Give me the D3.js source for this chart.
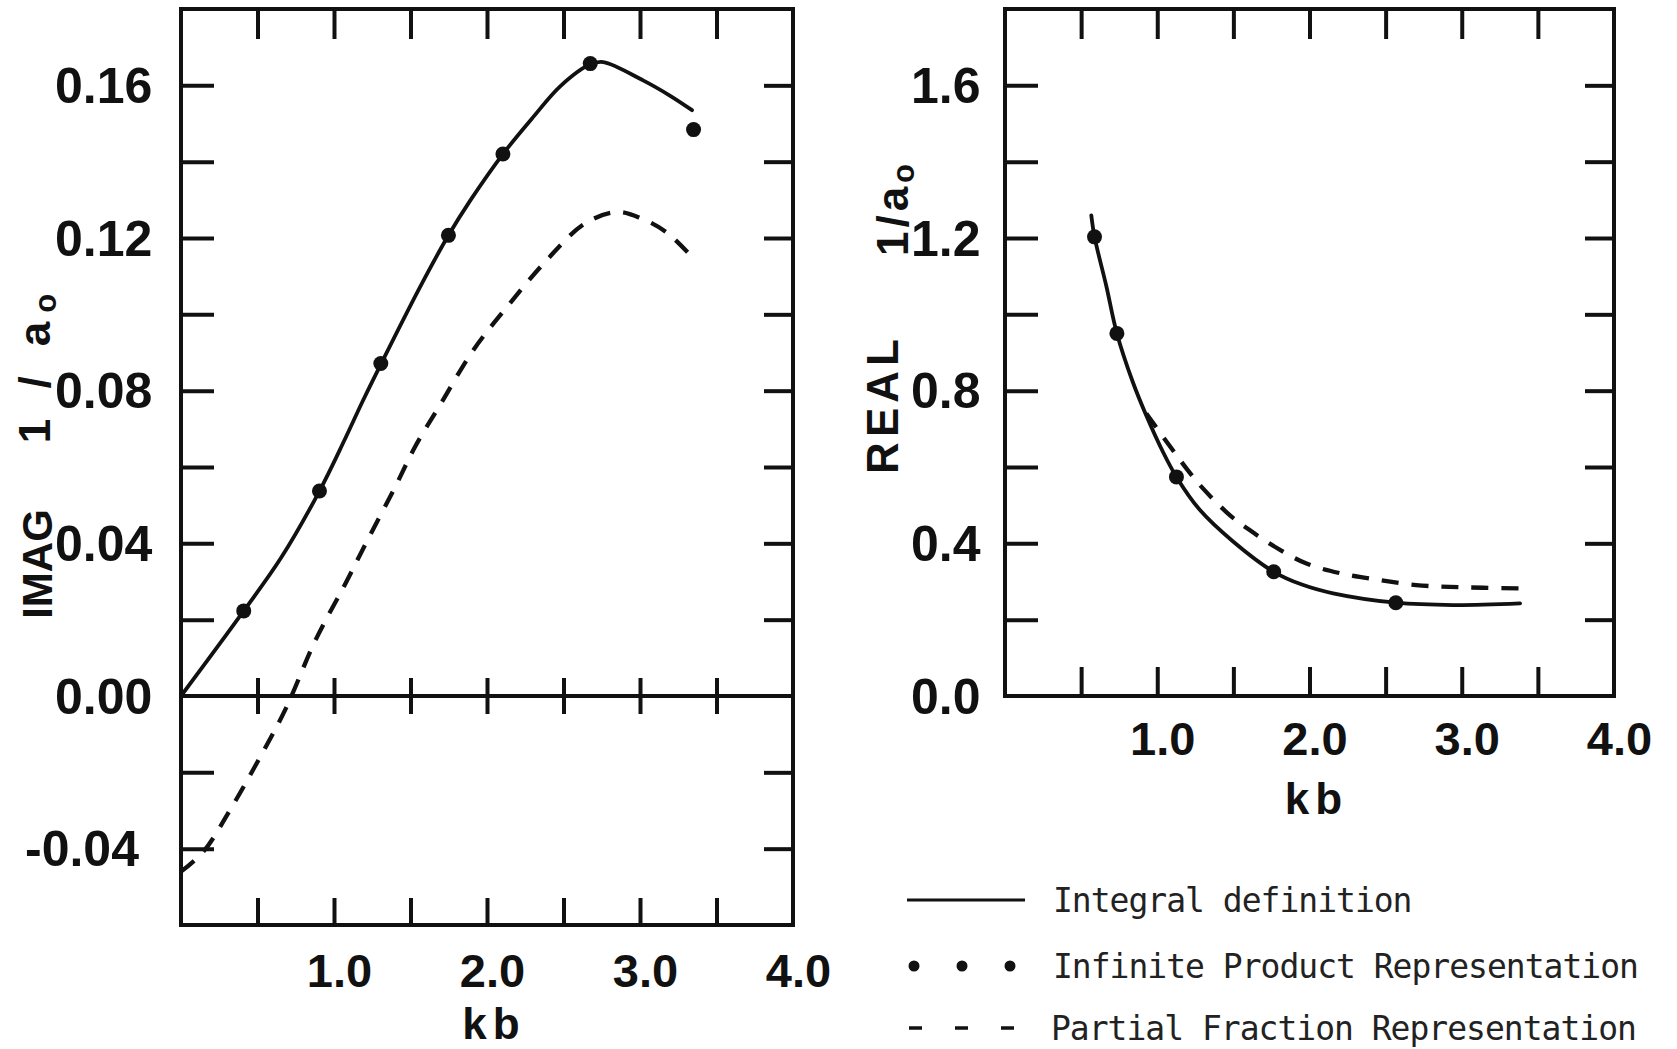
<!DOCTYPE html>
<html><head><meta charset="utf-8">
<script src="https://cdn.jsdelivr.net/npm/d3@7"></script>
<style>body{margin:0;background:#fff}svg{display:block}</style>
</head><body>
<svg id="chart" width="1677" height="1049"></svg>
<script>
// ---------- data ----------
const xMinorTicks = [0.5, 1.0, 1.5, 2.0, 2.5, 3.0, 3.5];
const xTickLabels = [1.0, 2.0, 3.0, 4.0];
const imagTicks = [-0.04, -0.02, 0.02, 0.04, 0.06, 0.08, 0.10, 0.12, 0.14, 0.16];
const imagTickLabels = [-0.04, 0.00, 0.04, 0.08, 0.12, 0.16];
const realTicks = [0.2, 0.4, 0.6, 0.8, 1.0, 1.2, 1.4, 1.6];
const realTickLabels = [0.0, 0.4, 0.8, 1.2, 1.6];

// IMAG 1/a0 : integral definition (solid)
const imagIntegral = [[0,0],[0.41,0.0223],[0.654,0.0362],[0.905,0.0537],[1.068,0.067],[1.188,0.0773],[1.306,0.0869],[1.563,0.1072],[1.748,0.1207],[1.89,0.1298],[2.104,0.142],[2.3,0.1516],[2.48,0.1598],[2.675,0.1655],[2.76,0.1661],[3.02,0.1613],[3.2,0.1572],[3.34,0.1535]];
// IMAG : infinite product representation (dots)
const imagProduct = [[0.41,0.0223],[0.905,0.0537],[1.306,0.0871],[1.748,0.1207],[2.104,0.142],[2.675,0.1657],[3.35,0.1484]];
// IMAG : partial fraction representation (dashed)
const imagPartial = [[0,-0.046],[0.146,-0.0408],[0.32,-0.0299],[0.495,-0.0176],[0.68,-0.0037],[0.88,0.0147],[1.07,0.0291],[1.22,0.0409],[1.395,0.0544],[1.53,0.0653],[1.70,0.0767],[1.91,0.0906],[2.14,0.1024],[2.39,0.1142],[2.64,0.1238],[2.85,0.1268],[3.01,0.1251],[3.17,0.1216],[3.36,0.1142]];

// REAL 1/a0
const realIntegral = [[0.567,1.259],[0.588,1.203],[0.665,1.075],[0.735,0.950],[0.84,0.822],[0.928,0.735],[1.037,0.640],[1.126,0.574],[1.279,0.488],[1.498,0.405],[1.765,0.3255],[1.95,0.292],[2.155,0.269],[2.567,0.2444],[2.944,0.2383],[3.383,0.2427]];
const realProduct = [[0.588,1.203],[0.735,0.950],[1.126,0.574],[1.765,0.3255],[2.567,0.2444]];
const realPartial = [[0.928,0.740],[1.093,0.649],[1.20,0.592],[1.30,0.544],[1.476,0.474],[1.607,0.4347],[1.772,0.391],[1.98,0.347],[2.21,0.321],[2.462,0.3037],[2.70,0.2906],[2.92,0.286],[3.14,0.2836],[3.416,0.282]];

const legendLabels = ["Integral definition", "Infinite Product Representation", "Partial Fraction Representation"];

// ---------- drawing ----------
const svg = d3.select("#chart");
const FONT = "'Liberation Sans', Arial, sans-serif";
const INK = "#111";

function panel(opt) {
  const g = svg.append("g");
  const x = d3.scaleLinear().domain([0, 4]).range([opt.x0, opt.x1]);
  const y = d3.scaleLinear().domain(opt.yDomain).range([opt.y1, opt.y0]);

  const styleTicks = sel => {
    sel.select(".domain").remove();
    sel.selectAll(".tick line").attr("stroke", INK).attr("stroke-width", 4);
    sel.selectAll(".tick text").remove();
  };
  g.append("g").attr("transform", `translate(0,${opt.y0})`)
    .call(d3.axisBottom(x).tickValues(xMinorTicks).tickSize(30).tickFormat("")).call(styleTicks);
  g.append("g").attr("transform", `translate(0,${opt.y1})`)
    .call(d3.axisTop(x).tickValues(xMinorTicks).tickSize(opt.bottomTick).tickFormat("")).call(styleTicks);
  g.append("g").attr("transform", `translate(${opt.x0},0)`)
    .call(d3.axisRight(y).tickValues(opt.yTicks).tickSize(33).tickFormat("")).call(styleTicks);
  g.append("g").attr("transform", `translate(${opt.x1},0)`)
    .call(d3.axisLeft(y).tickValues(opt.yTicks).tickSize(29).tickFormat("")).call(styleTicks);

  if (opt.zeroLine) {
    const z = y(0);
    g.append("line").attr("x1", opt.x0).attr("x2", opt.x1).attr("y1", z).attr("y2", z)
      .attr("stroke", INK).attr("stroke-width", 4);
    g.append("g").attr("transform", `translate(0,${z})`)
      .call(d3.axisBottom(x).tickValues(xMinorTicks).tickSize(18).tickFormat("")).call(styleTicks);
    g.append("g").attr("transform", `translate(0,${z})`)
      .call(d3.axisTop(x).tickValues(xMinorTicks).tickSize(18).tickFormat("")).call(styleTicks);
  }

  g.append("rect").attr("x", opt.x0).attr("y", opt.y0)
    .attr("width", opt.x1 - opt.x0).attr("height", opt.y1 - opt.y0)
    .attr("fill", "none").attr("stroke", INK).attr("stroke-width", 4);

  // y tick labels (left-aligned like the hand lettering)
  const fmt = d3.format(opt.yFmt);
  const ylab = g.append("g")
    .call(d3.axisLeft(y).tickValues(opt.yLabels).tickSize(0).tickPadding(0)
      .tickFormat(d => fmt(d).replace("\u2212", "-")));
  ylab.select(".domain").remove();
  ylab.selectAll(".tick text").attr("dy", null).attr("y", 17)
    .attr("text-anchor", "start")
    .attr("x", d => d < 0 ? opt.yLabelX - 30 : opt.yLabelX)
    .attr("font-family", FONT).attr("font-weight", "bold").attr("font-size", 50).attr("fill", INK);

  const xlab = g.append("g").attr("transform", `translate(5,${opt.xLabelY})`)
    .call(d3.axisBottom(x).tickValues(xTickLabels).tickSize(0).tickPadding(0).tickFormat(d3.format(".1f")));
  xlab.select(".domain").remove();
  xlab.selectAll(".tick text").attr("dy", null).attr("y", 0)
    .attr("font-family", FONT).attr("font-weight", "bold").attr("font-size", 47).attr("fill", INK);

  g.append("text").attr("x", x(2.0) + 7).attr("y", opt.kbY).attr("text-anchor", "middle")
    .attr("font-family", FONT).attr("font-weight", "bold").attr("font-size", 44)
    .attr("letter-spacing", 6).attr("fill", INK).text("kb");

  g.append("text").attr("transform", `translate(${opt.t1x},${opt.t1y}) rotate(-90)`)
    .attr("text-anchor", "middle").attr("font-family", FONT).attr("font-weight", "bold")
    .attr("font-size", opt.t1fs).attr("letter-spacing", opt.t1ls).attr("fill", INK).text(opt.title);
  const t2 = g.append("text").attr("transform", `translate(${opt.t2x},${opt.t2y}) rotate(-90)`)
    .attr("text-anchor", "middle").attr("font-family", FONT).attr("font-weight", "bold")
    .attr("font-size", 44).attr("letter-spacing", opt.t2ls).attr("fill", INK);
  t2.append("tspan").text(opt.t2text);
  t2.append("tspan").attr("font-size", 31).attr("dy", 6).text("o");

  const line = d3.line().x(d => x(d[0])).y(d => y(d[1])).curve(d3.curveCatmullRom.alpha(0.5));
  g.append("path").datum(opt.partial).attr("d", line).attr("fill", "none")
    .attr("stroke", INK).attr("stroke-width", 4.3).attr("stroke-dasharray", "17,13");
  g.append("path").datum(opt.integral).attr("d", line).attr("fill", "none")
    .attr("stroke", INK).attr("stroke-width", 3.8).attr("stroke-linecap", "round");
  g.selectAll("circle.p").data(opt.product).join("circle").attr("class", "p")
    .attr("cx", d => x(d[0])).attr("cy", d => y(d[1])).attr("r", 7.5).attr("fill", INK);
}

panel({
  x0: 181, x1: 793, y0: 9, y1: 925, yDomain: [-0.06, 0.18], yTicks: imagTicks,
  yLabels: imagTickLabels, yFmt: ".2f", yLabelX: 55, xLabelY: 987, kbY: 1039,
  bottomTick: 27, zeroLine: true,
  title: "IMAG", t1x: 52, t1y: 564, t1fs: 42, t1ls: 0,
  t2text: "1 / a", t2x: 50, t2y: 364, t2ls: 9,
  integral: imagIntegral, product: imagProduct, partial: imagPartial
});

panel({
  x0: 1005, x1: 1614, y0: 9, y1: 696, yDomain: [0, 1.8], yTicks: realTicks,
  yLabels: realTickLabels, yFmt: ".1f", yLabelX: 911, xLabelY: 755, kbY: 814,
  bottomTick: 29, zeroLine: false,
  title: "REAL", t1x: 898, t1y: 404, t1fs: 44, t1ls: 5,
  t2text: "1/a", t2x: 908, t2y: 208, t2ls: 4,
  integral: realIntegral, product: realProduct, partial: realPartial
});

// legend
const leg = svg.append("g");
const rowsY = [900, 966, 1028];
leg.append("line").attr("x1", 907).attr("x2", 1025).attr("y1", rowsY[0]).attr("y2", rowsY[0])
  .attr("stroke", INK).attr("stroke-width", 3);
leg.selectAll("circle").data([914, 962, 1010]).join("circle")
  .attr("cx", d => d).attr("cy", rowsY[1]).attr("r", 5.5).attr("fill", INK);
leg.append("line").attr("x1", 909).attr("x2", 1019).attr("y1", rowsY[2]).attr("y2", rowsY[2])
  .attr("stroke", INK).attr("stroke-width", 3.5).attr("stroke-dasharray", "13,33");
leg.selectAll("text").data(legendLabels).join("text")
  .attr("x", (d, i) => i === 2 ? 1051 : 1053).attr("y", (d, i) => rowsY[i] + 12)
  .attr("font-family", "'DejaVu Sans Mono', 'Liberation Mono', monospace")
  .attr("font-size", 33).attr("letter-spacing", -1).attr("fill", "#222").text(d => d);
</script>
</body></html>
